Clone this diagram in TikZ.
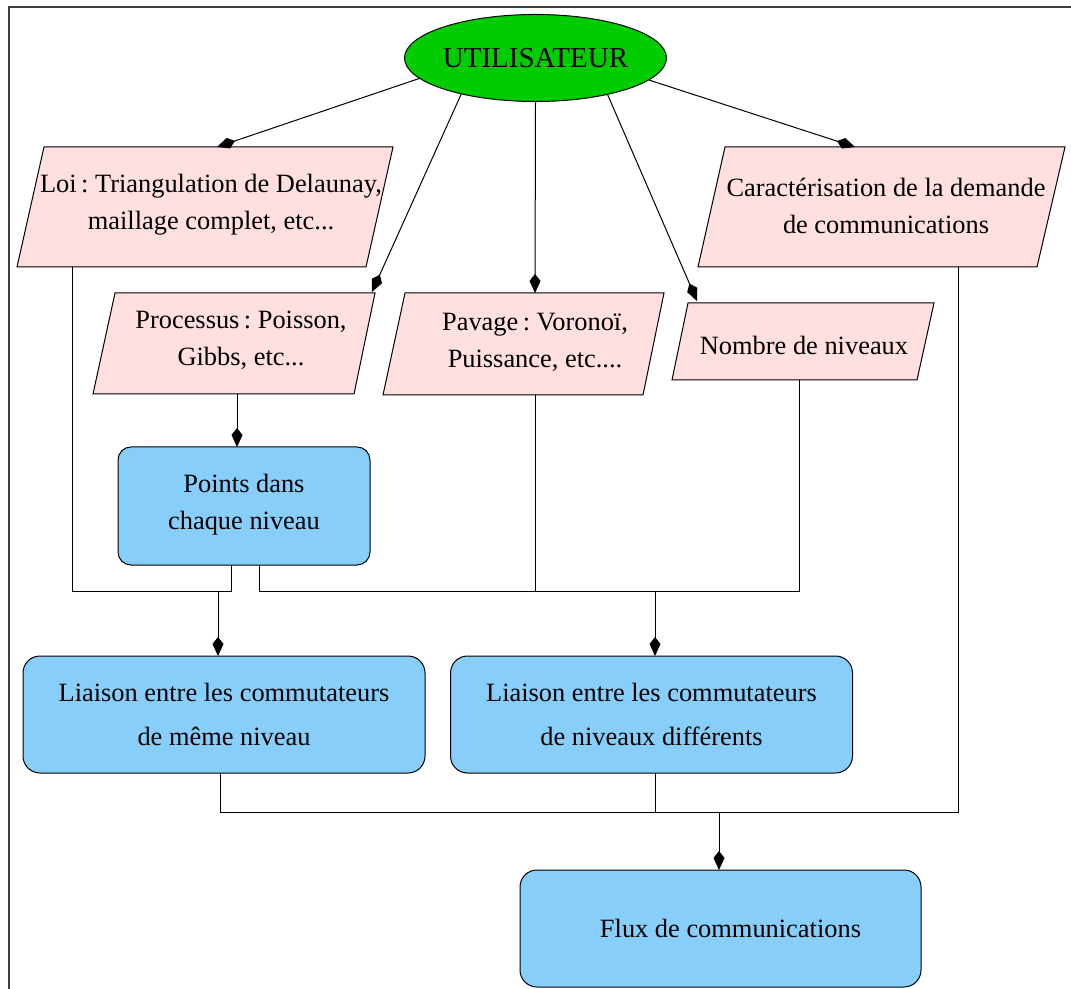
\documentclass[tikz,border=0pt]{standalone}
\usepackage{fontspec}
\setmainfont{Liberation Serif}
\usetikzlibrary{shapes.geometric,arrows.meta}
\definecolor{pinkfill}{RGB}{255,223,223}
\definecolor{bluefill}{RGB}{135,206,250}
\definecolor{greenfill}{RGB}{0,204,0}
\frenchspacing
\begin{document}
\begin{tikzpicture}[x=0.5pt,y=-0.5pt,
  every node/.style={font=\fontsize{13.2}{18.5}\selectfont},
  para/.style={draw=black,fill=pinkfill,line width=0.5pt},
  txt/.style={align=center,inner sep=0pt},
  rbox/.style={draw=black,fill=bluefill,line width=0.5pt,rounded corners=8.5pt,align=center,inner sep=0pt,minimum width=201pt,minimum height=58.5pt},
  conn/.style={line width=0.5pt,draw=black},
  arr/.style={conn,-{Kite[length=9.5pt,width=5.5pt,inset=3.5pt]}},
  frameline/.style={line width=0.6pt,draw=black!75}]
\useasboundingbox (0,0) rectangle (1071,989);
\draw[frameline] (9,989) -- (9,7) -- (1071,7);

% ellipse
\node[ellipse,draw=black,fill=greenfill,line width=0.5pt,minimum width=129.5pt,minimum height=43.5pt,inner sep=0pt,font=\fontsize{14.5}{17}\selectfont] (util) at (535.5,58) {UTILISATEUR};

% parallelograms
\filldraw[para] (44,147) -- (393,147) -- (366,267) -- (17,267) -- cycle;
\node[txt] (loi) at (211,205) {Loi\,: Triangulation de Delaunay,\\ maillage complet, etc...};

\filldraw[para] (725,147) -- (1065,147) -- (1037,267) -- (698,267) -- cycle;
\node[txt] (car) at (886,206) {Caractérisation de la demande\\ de communications};

\filldraw[para] (115,293) -- (375,293) -- (354,394) -- (93,394) -- cycle;
\node[txt] (proc) at (241,340) {Processus\,: Poisson,\\ Gibbs, etc...};

\filldraw[para] (405,293) -- (664,293) -- (643,395) -- (383,395) -- cycle;
\node[txt] (pav) at (535,342) {Pavage\,: Voronoï,\\ Puissance, etc....};

\filldraw[para] (688,303) -- (934,303) -- (917,380) -- (672,380) -- cycle;
\node[txt] (nb) at (804,345) {Nombre de niveaux};

% rounded boxes
\node[rbox,rounded corners=6.5pt,minimum width=126pt,minimum height=59pt] (pts) at (244,506) {Points dans\\ chaque niveau\\[-14pt]\mbox{}};
\node[rbox] (l1) at (224,714.5) {Liaison entre les commutateurs\\[3.5pt] de même niveau};
\node[rbox] (l2) at (651.5,714.5) {Liaison entre les commutateurs\\[3.5pt] de niveaux différents};
\node[rbox,minimum width=200.5pt] (flux) at (720.5,928.5) {\hspace{10pt}Flux de communications};

% named connector points
\coordinate (loiT) at (217,147);
\coordinate (procT) at (372,292);
\coordinate (pavT) at (535,293);
\coordinate (nbT) at (697,301);
\coordinate (carT) at (855,147);
\coordinate (procB) at (237,394);
\coordinate (ptsT) at (237,447);
\coordinate (loiB) at (72,267);
\coordinate (ptsBL) at (231,565);
\coordinate (ptsBR) at (259,565);
\coordinate (pavB) at (535,395);
\coordinate (nbB) at (799,380);
\coordinate (carB) at (958,267);
\coordinate (jA) at (218,591);
\coordinate (l1T) at (218,656);
\coordinate (jB) at (655,591);
\coordinate (l2T) at (655,656);
\coordinate (l1B) at (220,773);
\coordinate (l2B) at (655,773);
\coordinate (jC) at (719,812);
\coordinate (fluxT) at (719,870);

% arrows from user
\draw[arr] (util.190.6) -- (loiT);
\draw[arr] (util.206.7) -- (procT);
\draw[arr] (util.south) -- (pavT);
\draw[arr] (util.333.6) -- (nbT);
\draw[arr] (util.349.8) -- (carT);

% processus -> points
\draw[arr] (procB) -- (ptsT);

% left collector
\draw[conn] (loiB) |- (ptsBL |- jA) -- (ptsBL);
\draw[arr] (jA) -- (l1T);

% right collector
\draw[conn] (ptsBR) |- (nbB |- jB) -- (nbB);
\draw[conn] (pavB) -- (pavB |- jB);
\draw[arr] (jB) -- (l2T);

% bottom collector
\draw[conn] (l1B) |- (carB |- jC) -- (carB);
\draw[conn] (l2B) -- (l2B |- jC);
\draw[arr] (jC) -- (fluxT);
\end{tikzpicture}
\end{document}
